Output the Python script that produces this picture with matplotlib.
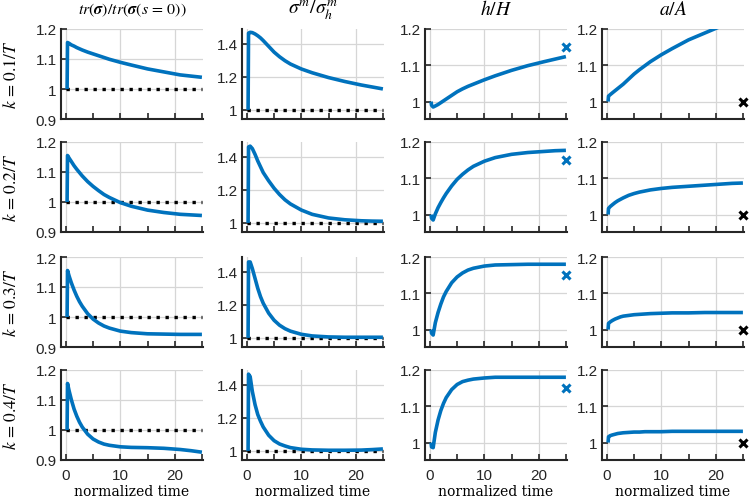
import numpy as np
import matplotlib
matplotlib.use("Agg")
import matplotlib.pyplot as plt
from matplotlib.ticker import FixedLocator, NullFormatter

plt.rcParams['mathtext.fontset'] = 'stix'

# ---- data ----
t = [0.22, 0.3, 0.6, 1, 1.5, 2, 2.5, 3, 4, 5, 6, 7, 8, 10, 12, 15, 18, 21, 23, 25]

row_labels = [r"$k\,=\,0.1/T$", r"$k\,=\,0.2/T$", r"$k\,=\,0.3/T$", r"$k\,=\,0.4/T$"]
col_titles = [r"$tr(\boldsymbol{\sigma})/tr(\boldsymbol{\sigma}(s\,=\,0))$",
              r"$\sigma^m/\sigma_h^m$", r"$h/H$", r"$a/A$"]
xlabel = "normalized time"

# trace ratio
trace_k1 = [1.0, 1.155, 1.152, 1.147, 1.143, 1.138, 1.134, 1.130, 1.123, 1.117, 1.111, 1.105,
            1.099, 1.089, 1.080, 1.067, 1.057, 1.047, 1.043, 1.039]
trace_k2 = [1.0, 1.155, 1.146, 1.135, 1.121, 1.109, 1.098, 1.087, 1.068, 1.052, 1.038, 1.025,
            1.015, 0.998, 0.986, 0.973, 0.965, 0.959, 0.957, 0.955]
trace_k3 = [1.0, 1.155, 1.136, 1.114, 1.090, 1.069, 1.051, 1.036, 1.011, 0.993, 0.980, 0.970,
            0.963, 0.953, 0.948, 0.944, 0.943, 0.942, 0.942, 0.942]
trace_k4 = [1.0, 1.155, 1.130, 1.101, 1.070, 1.046, 1.026, 1.010, 0.986, 0.970, 0.960, 0.953,
            0.949, 0.944, 0.942, 0.941, 0.939, 0.935, 0.931, 0.926]

# sigma^m / sigma_h^m
sig_k1 = [1.0, 1.465, 1.470, 1.468, 1.460, 1.449, 1.436, 1.420, 1.385, 1.350, 1.322, 1.298,
          1.278, 1.248, 1.225, 1.196, 1.172, 1.151, 1.139, 1.127]
sig_k2 = [1.0, 1.460, 1.465, 1.450, 1.415, 1.375, 1.340, 1.305, 1.255, 1.210, 1.172, 1.140,
          1.115, 1.078, 1.052, 1.030, 1.019, 1.013, 1.011, 1.010]
sig_k3 = [1.0, 1.460, 1.460, 1.420, 1.360, 1.300, 1.250, 1.210, 1.150, 1.107, 1.077, 1.056,
          1.041, 1.022, 1.012, 1.006, 1.004, 1.004, 1.004, 1.004]
sig_k4 = [1.0, 1.465, 1.450, 1.360, 1.280, 1.220, 1.180, 1.145, 1.095, 1.062, 1.042, 1.030,
          1.020, 1.010, 1.006, 1.004, 1.004, 1.005, 1.008, 1.012]

# h/H
h_k1 = [1.0, 0.990, 0.985, 0.988, 0.992, 0.997, 1.002, 1.007, 1.017, 1.027, 1.035, 1.042,
        1.048, 1.060, 1.071, 1.086, 1.099, 1.110, 1.117, 1.124]
h_k2 = [1.0, 0.990, 0.985, 1.002, 1.019, 1.033, 1.046, 1.058, 1.079, 1.097, 1.111, 1.123,
        1.133, 1.147, 1.157, 1.166, 1.171, 1.174, 1.176, 1.177]
h_k3 = [1.0, 0.990, 0.985, 1.019, 1.047, 1.070, 1.090, 1.105, 1.129, 1.145, 1.156, 1.164,
        1.169, 1.175, 1.178, 1.179, 1.180, 1.180, 1.180, 1.180]
h_k4 = [1.0, 0.988, 0.986, 1.028, 1.062, 1.088, 1.108, 1.124, 1.146, 1.160, 1.168, 1.172,
        1.175, 1.178, 1.180, 1.180, 1.180, 1.180, 1.180, 1.180]
h_target = 1.15

# a/A
a_k1 = [1.0, 1.015, 1.019, 1.024, 1.030, 1.036, 1.042, 1.048, 1.062, 1.076, 1.088, 1.099,
        1.110, 1.129, 1.146, 1.170, 1.189, 1.208, np.nan, np.nan]
a_k2 = [1.0, 1.017, 1.022, 1.027, 1.033, 1.038, 1.042, 1.046, 1.053, 1.058, 1.062, 1.065,
        1.068, 1.072, 1.075, 1.078, 1.081, 1.084, 1.086, 1.087]
a_k3 = [1.0, 1.017, 1.021, 1.025, 1.029, 1.032, 1.035, 1.037, 1.039, 1.041, 1.042, 1.043,
        1.044, 1.045, 1.046, 1.046, 1.047, 1.047, 1.047, 1.047]
a_k4 = [1.0, 1.016, 1.019, 1.021, 1.023, 1.025, 1.026, 1.027, 1.028, 1.029, 1.029, 1.030,
        1.030, 1.030, 1.031, 1.031, 1.031, 1.031, 1.031, 1.031]
a_target = 1.0

series = [
    [trace_k1, sig_k1, h_k1, a_k1],
    [trace_k2, sig_k2, h_k2, a_k2],
    [trace_k3, sig_k3, h_k3, a_k3],
    [trace_k4, sig_k4, h_k4, a_k4],
]

ylims = [(0.9, 1.2), (0.945, 1.49), (0.952, 1.2), (0.952, 1.2)]
yticks = [[0.9, 1.0, 1.1, 1.2], [1.0, 1.2, 1.4], [1.0, 1.1, 1.2], [1.0, 1.1, 1.2]]
yticklabels = [["0.9", "1", "1.1", "1.2"], ["1", "1.2", "1.4"], ["1", "1.1", "1.2"], ["1", "1.1", "1.2"]]
xticks_major = [0, 10, 20]
xticks_minor = [5, 15, 25]

# ---- layout ----
W, H = 749, 502
fig = plt.figure(figsize=(W / 100, H / 100), dpi=100)
col_left = [61, 242, 425, 602]
col_w = 142
row_top = [30, 143, 258, 371]
row_h = 90
title_sizes = [11.5, 14, 14, 14]

BLUE = '#0072BD'
AX = '#262626'

for r in range(4):
    for c in range(4):
        ax = fig.add_axes([col_left[c] / W, 1 - (row_top[r] + row_h) / H, col_w / W, row_h / H])
        y = series[r][c]
        if c in (0, 1):
            ax.plot([0, 25], [1.0, 1.0], color='black', lw=2.4, linestyle=(0, (1, 1.7)), zorder=3)
        ax.plot(t, y, color=BLUE, lw=2.6, zorder=4, solid_capstyle='butt')
        if c == 2:
            ax.plot([25], [h_target], marker='x', color=BLUE, ms=6, mew=2.2,
                    linestyle='none', clip_on=False, zorder=5)
        if c == 3:
            ax.plot([25], [a_target], marker='x', color='black', ms=6, mew=2.2,
                    linestyle='none', clip_on=False, zorder=5)
        ax.set_xlim(-0.9, 25.2)
        ax.set_ylim(*ylims[c])
        ax.set_yticks(yticks[c])
        ax.set_yticklabels(yticklabels[c])
        ax.xaxis.set_major_locator(FixedLocator(xticks_major))
        ax.xaxis.set_minor_locator(FixedLocator(xticks_minor))
        ax.xaxis.set_minor_formatter(NullFormatter())
        if r == 3:
            ax.set_xticklabels([str(v) for v in xticks_major])
            ax.set_xlabel(xlabel, family='DejaVu Serif', fontsize=10, labelpad=1, color='black')
        else:
            ax.set_xticklabels([])
        ax.grid(True, which='major', color='#d6d6d6', lw=0.9)
        ax.set_axisbelow(True)
        for s in ('top', 'right'):
            ax.spines[s].set_visible(False)
        for s in ('left', 'bottom'):
            ax.spines[s].set_linewidth(1.5)
            ax.spines[s].set_color(AX)
        ax.tick_params(axis='both', which='both', direction='in', length=4, width=1.2,
                       color=AX, labelsize=11, labelcolor=AX)
        for lab in ax.get_xticklabels() + ax.get_yticklabels():
            lab.set_family('Liberation Sans')
        ax.tick_params(axis='y', pad=3)
        ax.tick_params(axis='x', pad=6)
        if r == 0:
            ax.set_title(col_titles[c], fontsize=title_sizes[c], pad=11)
    # row label
    fig.text(11 / W, 1 - (row_top[r] + row_h / 2) / H, row_labels[r], rotation=90,
             ha='center', va='center', fontsize=12.5)

fig.savefig('out.png', dpi=100)
